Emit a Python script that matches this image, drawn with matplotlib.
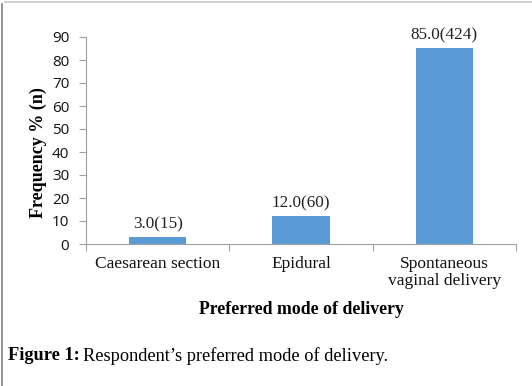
import matplotlib
matplotlib.use("Agg")
import matplotlib.pyplot as plt
from matplotlib.lines import Line2D
import numpy as np

# data
categories = ["Caesarean section", "Epidural", "Spontaneous\nvaginal delivery"]
percent = [3.0, 12.0, 85.0]
counts = [15, 60, 424]
yticks = [0, 10, 20, 30, 40, 50, 60, 70, 80, 90]

W, H = 532, 386
fig = plt.figure(figsize=(W / 100, H / 100), dpi=100)
ax = fig.add_axes([86 / W, (H - 244) / H, (516 - 86) / W, (244 - 37) / H])

x = np.arange(len(categories))
ax.bar(x, percent, width=0.4, color="#5B9BD5")

for xi, p, n in zip(x, percent, counts):
    ax.text(xi, p + 2.2, f"{p:.1f}({n})", ha="center", va="bottom",
            fontfamily="Liberation Serif", fontsize=12.3, color="#222222")

ax.set_xlim(-0.5, 2.5)
ax.set_ylim(0, 90)
ax.set_yticks(yticks)
ax.set_yticklabels([str(t) for t in yticks], fontfamily="Open Sans", fontsize=11,
                   color="#111111")
ax.set_xticks([-0.5, 0.5, 1.5, 2.5])
ax.set_xticklabels([])
ax.set_xticks(x, minor=True)
ax.set_xticklabels(categories, minor=True, fontfamily="Liberation Serif",
                   fontsize=12.5, linespacing=1.05, color="#111111")
ax.tick_params(axis="x", which="minor", length=0, pad=9)
ax.tick_params(axis="x", which="major", length=5, color="#A0A0A0")
ax.tick_params(axis="y", length=5, color="#A0A0A0", pad=7)

for s in ["top", "right"]:
    ax.spines[s].set_visible(False)
for s in ["left", "bottom"]:
    ax.spines[s].set_color("#A0A0A0")
    ax.spines[s].set_linewidth(0.8)

fig.text(38 / W, 1 - 153 / H, "Frequency % (n)", ha="center", va="center",
         rotation=90, fontfamily="Liberation Serif", fontweight="bold", fontsize=13)
fig.text(301 / W, 1 - 310 / H, "Preferred mode of delivery", ha="center", va="center",
         fontfamily="Liberation Serif", fontweight="bold", fontsize=12.8)

# caption
fig.text(8 / W, 1 - 356 / H, "Figure 1:", ha="left", va="center",
         fontfamily="Liberation Serif", fontweight="bold", fontsize=13.2)
fig.text(83 / W, 1 - 356 / H, "Respondent\u2019s preferred mode of delivery.", ha="left",
         va="center", fontfamily="Liberation Serif", fontsize=13.2)

# frame lines at the top and left edge
fig.add_artist(Line2D([1.5 / W, 1.5 / W], [0, 1 - 4 / H], color="#808080", lw=1.2))
fig.add_artist(Line2D([5 / W, 1], [1 - 1.5 / H, 1 - 1.5 / H], color="#C8C8C8", lw=1.2))

fig.savefig("out.png", dpi=100)
